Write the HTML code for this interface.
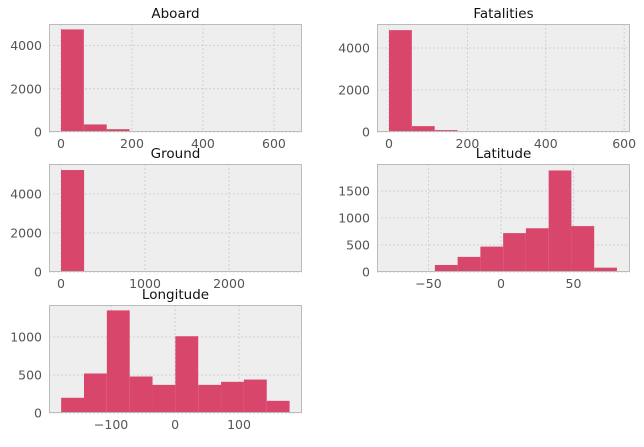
<!DOCTYPE html>
<html><head><meta charset="utf-8"><style>
body{margin:0;background:#fff;width:644px;height:442px;overflow:hidden}
svg{font-family:"DejaVu Sans","Liberation Sans",sans-serif}
</style></head><body>
<svg id="c" width="644" height="442"></svg>
<script>
const titles=["Aboard","Fatalities","Ground","Latitude","Longitude"];
const aboardCounts=[4750,350,130,45,40,5,3,2,1,5];
const fatalCounts=[4850,280,90,20,10,5,2,1,1,1];
const groundCounts=[5230,3,2,1,1,0,0,0,0,2];
const latCounts=[1,3,130,280,470,720,810,1880,850,80];
const lonCounts=[200,520,1350,480,370,1010,370,410,440,160];
const binRanges=[[0,644],[0,583],[0,2750],[-77,80],[-178,179]];
const xTicks=[[0,200,400,600],[0,200,400,600],[0,1000,2000],[-50,0,50],[-100,0,100]];
const yTicks=[[0,2000,4000],[0,2000,4000],[0,2000,4000],[0,500,1000,1500],[0,500,1000]];
const xDomains=[[-33.8,679],[-30.6,615],[-143,2869],[-85.5,89],[-197,198.4]];
const yMax=[5000,5143,5540,2000,1421];
const boxes=[[49,24,302,132],[377,24,630,132],[49,164,302,272],[377,164,630,272],[49,305,302,413]];
const counts=[aboardCounts,fatalCounts,groundCounts,latCounts,lonCounts];
const NS="http://www.w3.org/2000/svg";
const svg=document.getElementById('c');
function mk(t,a,p){const e=document.createElementNS(NS,t);for(const k in a)e.setAttribute(k,a[k]);(p||svg).appendChild(e);return e;}
titles.forEach((title,i)=>{
  const [x0,y0,x1,y1]=boxes[i];
  const g=mk('g',{});
  
  
  const xs=v=>x0+(v-xDomains[i][0])/(xDomains[i][1]-xDomains[i][0])*(x1-x0);
  const ys=v=>y1-v/yMax[i]*(y1-y0);
  const bg=mk('rect',{x:x0,y:y0,width:x1-x0,height:y1-y0,fill:'#eeeeee'},g);
  
  
  xTicks[i].forEach(t=>{
    const gl=mk('line',{x1:xs(t),x2:xs(t),y1:y0,y2:y1,stroke:'#c8c8c8','stroke-dasharray':'2,2','stroke-width':0.8},g);
    
    
    const tl=mk('text',{x:xs(t),y:y1+16,'text-anchor':'middle','font-size':12.5,fill:'#555'},g);
    tl.textContent=t<0?'\u2212'+(-t):t;
    
    
  });
  yTicks[i].forEach(t=>{
    const gl=mk('line',{x1:x0,x2:x1,y1:ys(t),y2:ys(t),stroke:'#c8c8c8','stroke-dasharray':'2,2','stroke-width':0.8},g);
    
    
    const tl=mk('text',{x:x0-7,y:ys(t)+4.5,'text-anchor':'end','font-size':12.5,fill:'#555'},g);
    tl.textContent=t;
    
    
  });
  const c=counts[i],[a,b]=binRanges[i],w=(b-a)/c.length;
  c.forEach((v,k)=>{
    if(v<=0)return;
    const l=xs(a+k*w),r=xs(a+(k+1)*w);
    const bar=mk('rect',{x:l,y:ys(v),width:r-l,height:y1-ys(v),fill:'#d9466b'},g);
    
    
  });
  const fr=mk('rect',{x:x0+0.5,y:y0+0.5,width:x1-x0-1,height:y1-y0-1,fill:'none',stroke:'#bbbbbb','stroke-width':1},g);
  
  
  const tt=mk('text',{x:(x0+x1)/2,y:y0-6,'text-anchor':'middle','font-size':13.5,fill:'#111'},g);
  tt.textContent=title;
  
  
});
</script>
</body></html>
